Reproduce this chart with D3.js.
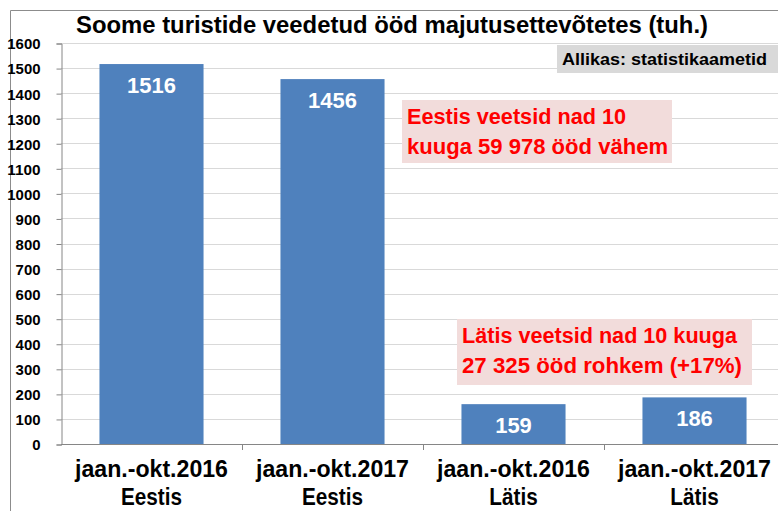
<!DOCTYPE html>
<html>
<head>
<meta charset="utf-8">
<script src="https://cdn.jsdelivr.net/npm/d3@7"></script>
<style>
  body { margin: 0; background: #fff; }
  svg { display: block; font-family: 'Liberation Sans', Arial, sans-serif; font-weight: bold; }
</style>
</head>
<body>
<svg id="chart"></svg>
<script>
// values (tuh. ööd)
const periods = ['jaan.-okt.2016', 'jaan.-okt.2017', 'jaan.-okt.2016', 'jaan.-okt.2017']
const countries = ['Eestis', 'Eestis', 'Lätis', 'Lätis']
const nights = [1516, 1456, 159, 186]
const yTicks = [0, 100, 200, 300, 400, 500, 600, 700, 800, 900, 1000, 1100, 1200, 1300, 1400, 1500, 1600]

const titleText = 'Soome turistide veedetud ööd majutusettevõtetes (tuh.)'
const sourceText = 'Allikas: statistikaametid'
const noteEstonia = ['Eestis veetsid nad 10', 'kuuga 59 978 ööd vähem']
const noteLatvia = ['Lätis veetsid nad 10 kuuga', '27 325 ööd rohkem (+17%)']

const width = 778
const height = 511
const margin = ({top: 43, right: -7, bottom: 67, left: 61})

const svg = d3.select('#chart')
  .attr('width', width)
  .attr('height', height)

// squeeze text horizontally so the wide fallback font looks like the narrow original
function squeeze(sel, k) {
  sel.each(function() {
    let w = this.getComputedTextLength()
    d3.select(this)
      .attr('textLength', w * k)
      .attr('lengthAdjust', 'spacingAndGlyphs')
  })
}

const keys = d3.range(nights.length)

const x = d3.scaleBand()
  .domain(keys)
  .range([margin.left, width - margin.right])
  .paddingInner(0.425)
  .paddingOuter(0.2125)

const y = d3.scaleLinear()
  .domain([0, 1600])
  .range([height - margin.bottom, margin.top])

// frame of the chart object
svg.append('path')
  .attr('d', `M10.5,${height}V10.5H${width}`)
  .attr('fill', 'none')
  .attr('stroke', '#8c8c8c')
  .attr('stroke-width', 1)

// gridlines
svg.append('g')
  .selectAll('line')
  .data(yTicks.slice(1))
  .join('line')
    .attr('x1', margin.left)
    .attr('x2', width)
    .attr('y1', d => Math.round(y(d)) + 0.5)
    .attr('y2', d => Math.round(y(d)) + 0.5)
    .attr('stroke', '#d9d9d9')

// y axis
const yAxis = svg.append('g')
  .attr('transform', `translate(${margin.left + 0.5}, 0.5)`)
  .call(d3.axisLeft(y).tickValues(yTicks).tickSize(5).tickPadding(16).tickFormat(d3.format('d')))
yAxis.attr('font-size', null).attr('font-family', null)
yAxis.select('.domain').attr('stroke', '#868686')
yAxis.selectAll('.tick line').attr('stroke', '#868686')
yAxis.selectAll('.tick text')
  .attr('fill', '#000')
  .style('font-size', '15px')
  .style('font-weight', 'bold')
  .attr('dy', '0.36em')
  .attr('textLength', d => String(d).length * 8.3)
  .attr('lengthAdjust', 'spacingAndGlyphs')

// bars
svg.append('g')
  .selectAll('rect')
  .data(keys)
  .join('rect')
    .attr('x', d => x(d))
    .attr('y', d => y(nights[d]))
    .attr('width', x.bandwidth())
    .attr('height', d => y(0) - y(nights[d]))
    .attr('fill', '#4f81bd')

// x axis line + ticks between categories
const step = x.step()
const x0 = x(0) - x.paddingOuter() * step
svg.append('line')
  .attr('x1', margin.left)
  .attr('x2', width)
  .attr('y1', y(0) + 0.5)
  .attr('y2', y(0) + 0.5)
  .attr('stroke', '#868686')
svg.append('g')
  .selectAll('line')
  .data(d3.range(1, nights.length))
  .join('line')
    .attr('x1', d => Math.round(x0 + d * step) + 0.5)
    .attr('x2', d => Math.round(x0 + d * step) + 0.5)
    .attr('y1', y(0))
    .attr('y2', y(0) + 6)
    .attr('stroke', '#868686')

// value labels
svg.append('g')
  .selectAll('text')
  .data(keys)
  .join('text')
    .attr('x', d => x(d) + x.bandwidth() / 2)
    .attr('y', d => y(nights[d]) + 29)
    .attr('text-anchor', 'middle')
    .attr('fill', '#fff')
    .style('font-size', '22px')
    .attr('textLength', d => String(nights[d]).length * 12.2)
    .attr('lengthAdjust', 'spacingAndGlyphs')
    .text(d => nights[d])

// category labels (two lines)
const cat = svg.append('g')
  .selectAll('g')
  .data(keys)
  .join('g')
    .attr('transform', d => `translate(${x(d) + x.bandwidth() / 2}, 0)`)
cat.append('text')
  .attr('y', 477)
  .attr('text-anchor', 'middle')
  .style('font-size', '23px')
  .attr('fill', '#000')
  .attr('textLength', 153)
  .attr('lengthAdjust', 'spacingAndGlyphs')
  .text(d => periods[d])
cat.append('text')
  .attr('y', 505)
  .attr('text-anchor', 'middle')
  .style('font-size', '23px')
  .attr('fill', '#000')
  .text(d => countries[d])
  .call(squeeze, 0.9)

// title
svg.append('text')
  .attr('x', 392)
  .attr('y', 33)
  .attr('text-anchor', 'middle')
  .style('font-size', '23px')
  .attr('fill', '#000')
  .attr('textLength', 632)
  .attr('lengthAdjust', 'spacingAndGlyphs')
  .text(titleText)

// source box
svg.append('rect')
  .attr('x', 557)
  .attr('y', 45)
  .attr('width', width - 557)
  .attr('height', 28)
  .attr('fill', '#d9d9d9')
svg.append('text')
  .attr('x', 562)
  .attr('y', 65)
  .style('font-size', '16px')
  .attr('fill', '#000')
  .attr('textLength', 205)
  .attr('lengthAdjust', 'spacingAndGlyphs')
  .text(sourceText)

// callouts
function callout(lines, box, widths) {
  svg.append('rect')
    .attr('x', box.x)
    .attr('y', box.y)
    .attr('width', box.w)
    .attr('height', box.h)
    .attr('fill', '#f2dcdb')
  svg.append('g')
    .selectAll('text')
    .data(lines)
    .join('text')
      .attr('x', box.x + 5)
      .attr('y', (d, i) => box.y + 24 + i * 29.5)
      .style('font-size', '22px')
      .attr('fill', '#ff0000')
      .attr('textLength', (d, i) => widths[i])
      .attr('lengthAdjust', 'spacingAndGlyphs')
      .text(d => d)
}
callout(noteEstonia, {x: 402, y: 100, w: 270, h: 63}, [219, 261])
callout(noteLatvia, {x: 457, y: 319, w: 295, h: 66}, [275, 280])
</script>
</body>
</html>
